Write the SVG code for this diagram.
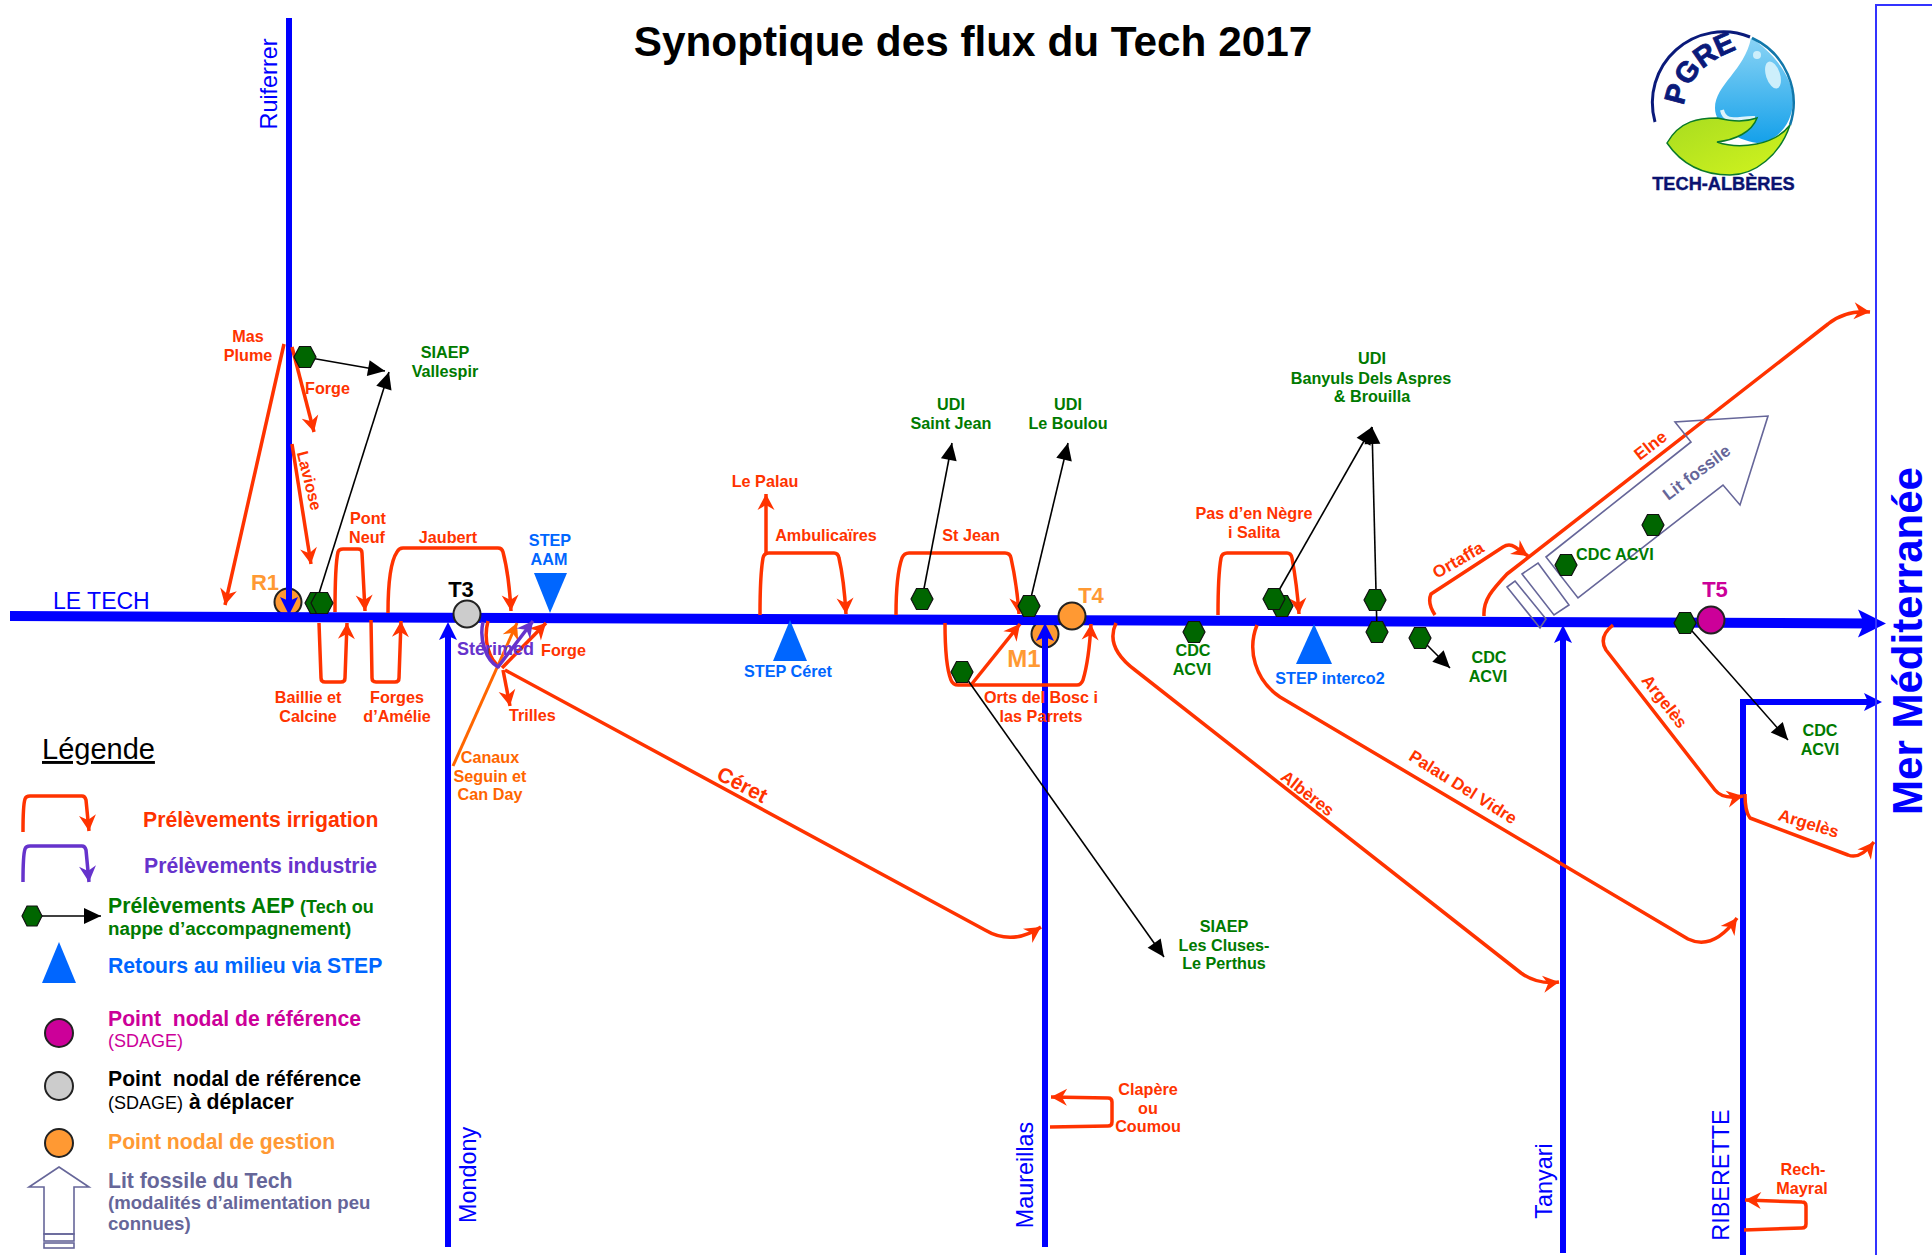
<svg xmlns="http://www.w3.org/2000/svg" width="1932" height="1255" viewBox="0 0 1932 1255">
<style>
text{font-family:"Liberation Sans",Arial,sans-serif;font-weight:bold;font-size:16.2px}
.c{text-anchor:middle}
.red{fill:#FF3300}.grn{fill:#007A00}.blu{fill:#0066FF}.org{fill:#FF6600}.pur{fill:#6633CC}.nod{font-size:22px}
.riv{fill:#0000FF;font-weight:normal;font-size:23.4px;text-anchor:middle}
.leg{font-size:21.2px}.sm{font-size:18px}.rot{font-size:17px}
.irr{fill:none;stroke:#FF3300;stroke-width:3.5;stroke-linejoin:round;marker-end:url(#mR)}
.ir0{fill:none;stroke:#FF3300;stroke-width:3.5;stroke-linejoin:round}
.ind{fill:none;stroke:#6633CC;stroke-width:3.5;stroke-linejoin:round;marker-end:url(#mP)}
.aep{fill:none;stroke:#000;stroke-width:1.6;marker-end:url(#mK)}
.rv{fill:none;stroke:#0000FF;stroke-width:6;marker-end:url(#mB)}
.fos{fill:#fff;fill-opacity:0;stroke:#666699;stroke-width:1.6}
.hex{fill:#006600;stroke:#111;stroke-width:1.2}
.pt{stroke:#222;stroke-width:2}
</style>
<defs>
<marker id="mR" markerUnits="userSpaceOnUse" markerWidth="40" markerHeight="40" refX="20" refY="20" orient="auto" viewBox="0 0 40 40"><path d="M4,11.500 L20,20 L4,28.500 L9,20Z" fill="#FF3300"/></marker>
<marker id="mO" markerUnits="userSpaceOnUse" markerWidth="40" markerHeight="40" refX="20" refY="20" orient="auto" viewBox="0 0 40 40"><path d="M4,11.500 L20,20 L4,28.500 L9,20Z" fill="#FF6600"/></marker>
<marker id="mP" markerUnits="userSpaceOnUse" markerWidth="40" markerHeight="40" refX="20" refY="20" orient="auto" viewBox="0 0 40 40"><path d="M4,11.500 L20,20 L4,28.500 L9,20Z" fill="#6633CC"/></marker>
<marker id="mK" markerUnits="userSpaceOnUse" markerWidth="40" markerHeight="40" refX="20" refY="20" orient="auto" viewBox="0 0 40 40"><path d="M3,12 L20,20 L3,28Z" fill="#000"/></marker>
<marker id="mB" markerUnits="userSpaceOnUse" markerWidth="40" markerHeight="40" refX="12" refY="20" orient="auto" viewBox="0 0 40 40"><path d="M2,11 L20,20 L2,29 L6,20Z" fill="#0000FF"/></marker>
<marker id="mM" markerUnits="userSpaceOnUse" markerWidth="60" markerHeight="60" refX="18" refY="30" orient="auto" viewBox="0 0 60 60"><path d="M2,16 L30,30 L2,44 L8,30Z" fill="#0000FF"/></marker>
<polygon id="hx" class="hex" points="-11,0 -5.500,-10.500 5.500,-10.500 11,0 5.500,10.500 -5.500,10.500"/>
<linearGradient id="gD" x1="0" y1="0" x2="0" y2="1"><stop offset="0" stop-color="#8AD4F5"/><stop offset="1" stop-color="#14A0EA"/></linearGradient>
<linearGradient id="gL" x1="0" y1="0" x2="1" y2="1"><stop offset="0" stop-color="#A8DC20"/><stop offset="1" stop-color="#D2F41E"/></linearGradient>
</defs>

<rect width="1932" height="1255" fill="#fff"/>
<text x="973" y="56" class="c" style="font-size:42.3px" fill="#000">Synoptique des flux du Tech 2017</text>

<g id="node-R1"><circle class="pt" cx="288" cy="602" r="13.5" fill="#FF9933"/><text x="265" y="590" class="c nod" fill="#FF9933">R1</text></g>
<g id="node-M1"><circle class="pt" cx="1045" cy="634" r="13.5" fill="#FF9933"/><text x="1024" y="667" class="c nod" style="font-size:24px" fill="#FF9933">M1</text></g>

<g id="connectors">
<path d="M10,616 L1874,623.500" fill="none" stroke="#0000FF" stroke-width="10" marker-end="url(#mM)"/>
<path class="rv" d="M289,18 V607"/>
<path class="rv" d="M448,1247 V630"/>
<path class="rv" d="M1045,1247 V631"/>
<path class="rv" d="M1563,1253 V633"/>
<path class="rv" d="M1743,1255 V702 H1874"/>
<path d="M1932,5 H1876 V1255" fill="none" stroke="#3333FF" stroke-width="2"/>

<path class="irr" d="M284,344 L225,605"/>
<path class="irr" d="M292,347 L314,432"/>
<path class="irr" d="M292,444 L311,564"/>
<path class="irr" d="M335,612 Q335,565 338,552 Q339,549 343,549 H358 Q362,549 362,553 L365,611"/>
<path class="irr" d="M388,613 Q388,565 397,552 Q399,548 403,548 H498 Q502,548 503,552 Q509,575 511,611"/>
<path class="irr" d="M319,623 L321,678 Q321,682 325,682 H341 Q345,682 345,678 L347,623"/>
<path class="irr" d="M371,620 L372,678 Q372,682 376,682 H395 Q399,682 399,678 L401,621"/>
<path class="ir0" d="M488,621 C483,640 489,660 500,667"/>
<path class="irr" d="M502,668 L546,623"/>
<path class="irr" d="M503,670 L510,706"/>
<path class="irr" d="M505,670 L985,930 Q1012,946 1041,927"/>
<path d="M453,766 L517,623" fill="none" stroke="#FF6600" stroke-width="3" marker-end="url(#mO)"/>
<path class="ind" d="M483,622 C479,640 486,660 498,667 L533,621"/>

<path class="irr" d="M760,615 Q760,575 763,558 Q764,553 769,553 H834 Q838,553 839,558 Q844,580 846,614"/>
<path class="irr" d="M766,553 V494"/>
<path class="irr" d="M896,615 Q896,575 902,558 Q904,553 909,553 H1005 Q1010,553 1011,558 Q1017,585 1019,614"/>
<path class="irr" d="M945,623 Q945,665 951,680 Q953,685 958,685 H1077 Q1081,685 1083,680 Q1089,660 1091,624"/>
<path class="irr" d="M971,685 L1020,624"/>
<path class="irr" d="M1218,615 Q1218,575 1221,558 Q1222,553 1227,553 H1287 Q1291,553 1292,558 Q1297,585 1299,614"/>
<path class="irr" d="M1116,623 C1108,640 1115,655 1135,670 L1521,973 Q1538,985 1559,982"/>
<path class="irr" d="M1257,625 C1247,650 1255,680 1280,697 L1688,939 Q1713,951 1737,918"/>
<path class="irr" d="M1435,615 Q1427,603 1431,594 L1503,547 Q1509,543 1515,547 L1528,556"/>
<path class="irr" d="M1484,616 C1483,600 1492,590 1507,574 L1828,324 Q1845,310 1870,312"/>
<path class="irr" d="M1613,625 Q1598,637 1606,650 L1715,790 Q1723,800 1743,796"/>
<path class="irr" d="M1745,794 Q1745,812 1750,818 L1848,855 Q1860,860 1874,842"/>
<path class="irr" d="M1050,1127 L1108,1126 Q1112,1126 1112,1122 V1102 Q1112,1098 1108,1098 L1051,1097"/>
<path class="irr" d="M1744,1230 L1802,1228 Q1806,1228 1806,1224 V1206 Q1806,1202 1802,1202 L1745,1200"/>

<path class="aep" d="M305,357 L385,371"/>
<path class="aep" d="M316,603 L389,372"/>
<path class="aep" d="M922,599 L952,443"/>
<path class="aep" d="M1029,606 L1068,443"/>
<path class="aep" d="M1274,599 L1372,427"/>
<path class="aep" d="M1377,632 L1372,427"/>
<path class="aep" d="M1420,638 L1450,668"/>
<path class="aep" d="M1685,623 L1788,740"/>
<path class="aep" d="M962,672 L1164,957"/>
</g>

<g id="lit-fossile">
<polygon class="fos" points="1546,557 1691,442 1675,422 1768,416 1740,505 1723,485 1578,598"/>
<polygon class="fos" points="1538,563 1569,605 1554,615 1522,574"/>
<polygon class="fos" points="1515,581 1546,619 1540,628 1507,587"/>
<text transform="translate(1700,477) rotate(-37)" class="c rot" fill="#666699">Lit fossile</text>
</g>

<g id="aep-points">
<use href="#hx" x="305" y="357"/><use href="#hx" x="316" y="603"/><use href="#hx" x="322" y="603"/>
<use href="#hx" x="922" y="599"/><use href="#hx" x="1029" y="606"/><use href="#hx" x="1282" y="606"/><use href="#hx" x="1274" y="599"/>
<use href="#hx" x="1194" y="632"/><use href="#hx" x="962" y="672"/><use href="#hx" x="1375" y="600"/><use href="#hx" x="1377" y="632"/>
<use href="#hx" x="1420" y="638"/><use href="#hx" x="1566" y="565"/><use href="#hx" x="1653" y="525"/><use href="#hx" x="1685" y="623"/>
</g>

<g id="node-T3"><circle class="pt" cx="467" cy="614" r="13.5" fill="#CCCCCC"/><text x="461" y="597" class="c nod" fill="#000">T3</text></g>
<g id="node-T4"><circle class="pt" cx="1072" cy="616" r="13.5" fill="#FF9933"/><text x="1091" y="603" class="c nod" fill="#FF9933">T4</text></g>
<g id="node-T5"><circle class="pt" cx="1711" cy="620" r="13.5" fill="#CC0099"/><text x="1715" y="597" class="c nod" fill="#CC0099">T5</text></g>

<g id="step-AAM"><polygon points="534,573 567,573 550,613" fill="#0066FF"/><text x="550" y="546" class="c blu">STEP</text><text x="549" y="565" class="c blu">AAM</text></g>
<g id="step-Ceret"><polygon points="790,620 773,661 807,661" fill="#0066FF"/><text x="788" y="677" class="c blu">STEP Céret</text></g>
<g id="step-interco2"><polygon points="1314,624 1296,664 1332,664" fill="#0066FF"/><text x="1330" y="684" class="c blu">STEP interco2</text></g>

<g id="river-labels">
<text x="53" y="609" style="font-size:23px;font-weight:normal" fill="#0000FF">LE TECH</text>
<text transform="translate(277,84) rotate(-90)" class="riv">Ruiferrer</text>
<text transform="translate(476,1175) rotate(-90)" class="riv">Mondony</text>
<text transform="translate(1033,1175) rotate(-90)" class="riv">Maureillas</text>
<text transform="translate(1552,1181) rotate(-90)" class="riv">Tanyari</text>
<text transform="translate(1729,1175) rotate(-90)" class="riv">RIBERETTE</text>
<text transform="translate(1922,641) rotate(-90)" class="c" style="font-size:42px" fill="#0000FF">Mer Méditerranée</text>
</g>

<g id="labels-irrigation" class="red">
<text x="248" y="342" class="c red">Mas</text><text x="248" y="361" class="c red">Plume</text>
<text x="305" y="394" class="red">Forge</text>
<text transform="translate(304,482) rotate(76)" class="c red">Laviose</text>
<text x="368" y="524" class="c red">Pont</text><text x="367" y="543" class="c red">Neuf</text>
<text x="448" y="543" class="c red">Jaubert</text>
<text x="541" y="656" class="red">Forge</text>
<text x="308" y="703" class="c red">Baillie et</text><text x="308" y="722" class="c red">Calcine</text>
<text x="397" y="703" class="c red">Forges</text><text x="397" y="722" class="c red">d’Amélie</text>
<text x="509" y="721" class="red">Trilles</text>
<text transform="translate(739,791) rotate(28)" class="c red" style="font-size:21px">Céret</text>
<text x="765" y="487" class="c red">Le Palau</text>
<text x="826" y="541" class="c red">Ambulicaïres</text>
<text x="971" y="541" class="c red">St Jean</text>
<text x="1041" y="703" class="c red">Orts del Bosc i</text><text x="1041" y="722" class="c red">las Parrets</text>
<text x="1254" y="519" class="c red">Pas d’en Nègre</text><text x="1254" y="538" class="c red">i Salita</text>
<text transform="translate(1304,798) rotate(38)" class="c red rot">Albères</text>
<text transform="translate(1460,792) rotate(32)" class="c red rot">Palau Del Vidre</text>
<text transform="translate(1461,565) rotate(-30)" class="c red rot">Ortaffa</text>
<text transform="translate(1654,450) rotate(-38)" class="c red rot">Elne</text>
<text transform="translate(1660,705) rotate(52)" class="c red rot">Argelès</text>
<text transform="translate(1807,829) rotate(17)" class="c red rot">Argelès</text>
<text x="1148" y="1095" class="c red">Clapère</text><text x="1148" y="1114" class="c red">ou</text><text x="1148" y="1132" class="c red">Coumou</text>
<text x="1803" y="1175" class="c red">Rech-</text><text x="1802" y="1194" class="c red">Mayral</text>
</g>
<text x="457" y="655" class="pur" style="font-size:18px">Stérimed</text>
<g id="labels-canaux"><text x="490" y="763" class="c org">Canaux</text><text x="490" y="782" class="c org">Seguin et</text><text x="490" y="800" class="c org">Can Day</text></g>

<g id="labels-aep">
<text x="445" y="358" class="c grn">SIAEP</text><text x="445" y="377" class="c grn">Vallespir</text>
<text x="951" y="410" class="c grn">UDI</text><text x="951" y="429" class="c grn">Saint Jean</text>
<text x="1068" y="410" class="c grn">UDI</text><text x="1068" y="429" class="c grn">Le Boulou</text>
<text x="1372" y="364" class="c grn">UDI</text><text x="1371" y="384" class="c grn">Banyuls Dels Aspres</text><text x="1372" y="402" class="c grn">&amp; Brouilla</text>
<text x="1193" y="656" class="c grn">CDC</text><text x="1192" y="675" class="c grn">ACVI</text>
<text x="1489" y="663" class="c grn">CDC</text><text x="1488" y="682" class="c grn">ACVI</text>
<text x="1820" y="736" class="c grn">CDC</text><text x="1820" y="755" class="c grn">ACVI</text>
<text x="1576" y="560" class="grn">CDC ACVI</text>
<text x="1224" y="932" class="c grn">SIAEP</text><text x="1224" y="951" class="c grn">Les Cluses-</text><text x="1224" y="969" class="c grn">Le Perthus</text>
</g>

<g id="legend">
<text x="42" y="759" style="font-size:29px;font-weight:normal;text-decoration:underline" fill="#000">Légende</text>
<path class="irr" d="M23,832 Q23,805 25,799 Q26,796 30,796 H82 Q85,796 86,800 L89,831"/>
<text x="143" y="827" class="leg red">Prélèvements irrigation</text>
<path class="ind" d="M23,882 Q23,855 25,849 Q26,846 30,846 H82 Q85,846 86,850 L89,882"/>
<text x="144" y="873" class="leg pur">Prélèvements industrie</text>
<polygon class="hex" points="22,916 27,906 37,906 42,916 37,926 27,926"/>
<path class="aep" d="M42,916 L101,916"/>
<text x="108" y="913" class="leg grn">Prélèvements AEP <tspan class="sm">(Tech ou</tspan></text>
<text x="108" y="935" class="sm grn" style="font-size:18.8px">nappe d’accompagnement)</text>
<polygon points="59,942 42,983 76,983" fill="#0066FF"/>
<text x="108" y="973" class="leg blu">Retours au milieu via STEP</text>
<circle class="pt" cx="59" cy="1033" r="14" fill="#CC0099"/>
<text x="108" y="1026" class="leg" fill="#CC0099">Point&#160; nodal de référence</text>
<text x="108" y="1047" class="sm" style="font-weight:normal" fill="#CC0099">(SDAGE)</text>
<circle class="pt" cx="59" cy="1086" r="14" fill="#CCCCCC"/>
<text x="108" y="1086" class="leg" fill="#000">Point&#160; nodal de référence</text>
<text x="108" y="1109" class="leg" fill="#000"><tspan class="sm" style="font-weight:normal">(SDAGE)</tspan> à déplacer</text>
<circle class="pt" cx="59" cy="1143" r="14" fill="#FF9933"/>
<text x="108" y="1149" class="leg" fill="#FF9933">Point nodal de gestion</text>
<polygon class="fos" points="59,1167 89,1187 74,1187 74,1234 44,1234 44,1187 29,1187"/>
<rect class="fos" x="44" y="1234" width="30" height="7"/><rect class="fos" x="44" y="1243" width="30" height="5"/>
<text x="108" y="1188" class="leg" fill="#666699">Lit fossile du Tech</text>
<text x="108" y="1209" class="sm" style="font-size:18.600px" fill="#666699">(modalités d’alimentation peu</text>
<text x="108" y="1230" class="sm" style="font-size:18.600px" fill="#666699">connues)</text>
</g>

<g id="logo">
<path d="M1751,38 C1745,70 1715,85 1715,108 C1715,125 1735,140 1757,143 C1775,143 1793,125 1793,100 C1793,75 1770,50 1751,38Z" fill="url(#gD)"/>
<ellipse cx="1773" cy="75" rx="7" ry="14" fill="#CDEFFB" transform="rotate(-18 1773 75)"/>
<circle cx="1757" cy="55" r="4" fill="#CDEFFB"/>
<path d="M1722,110 C1725,125 1740,117 1755,118" fill="none" stroke="#DDF3FB" stroke-width="4"/>
<path d="M1655,122 A71,71 0 0 1 1750,37" fill="none" stroke="#0A1A7A" stroke-width="3"/>
<path d="M1752,38 A71,71 0 0 1 1790,125" fill="none" stroke="#1177AA" stroke-width="2.5"/>
<path d="M1667,143 C1680,120 1700,118 1717,118 C1735,122 1745,122 1757,118 C1752,132 1735,140 1717,142 C1740,150 1775,145 1790,125 C1780,155 1755,175 1730,175 C1700,175 1680,162 1667,143Z" fill="url(#gL)" stroke="#0A7A2A" stroke-width="1.5"/>
<path id="pgreArc" d="M1684,106 C1687,80 1704,62 1736,50" fill="none"/>
<text fill="#0A1A7A" stroke="#0A1A7A" stroke-width=".8" style="font-size:29px"><textPath href="#pgreArc">PGRE</textPath></text>
<text x="1723.5" y="190" class="c" style="font-size:18.2px" fill="#0A1270" stroke="#0A1270" stroke-width=".4">TECH-ALBÈRES</text>
</g>
</svg>
